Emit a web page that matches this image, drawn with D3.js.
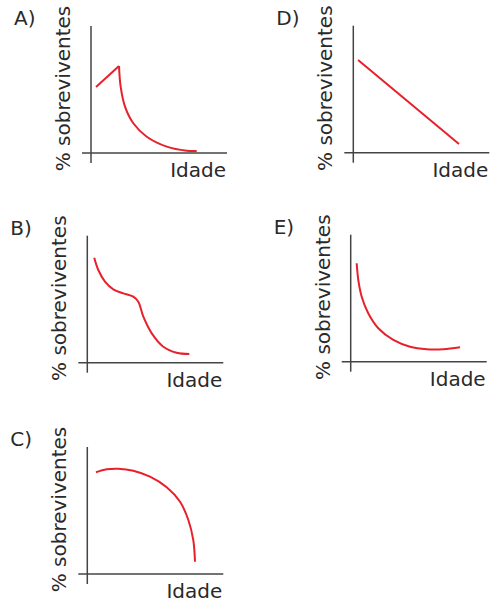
<!DOCTYPE html>
<html>
<head>
<meta charset="utf-8">
<script src="https://cdn.jsdelivr.net/npm/d3@7/dist/d3.min.js"></script>
<style>
  html, body { margin: 0; padding: 0; background: #fff; }
  svg { display: block; }
  text { font-family: "DejaVu Sans", Verdana, sans-serif; fill: #2a2a2a; }
</style>
</head>
<body>
<svg id="chart" width="494" height="602"></svg>
<script>
// ---- Data (age in % of lifespan, survivors in %) ----
const panelNames = ["A)", "B)", "C)", "D)", "E)"];
const yLabel = "% sobreviventes";
const xLabel = "Idade";

// A: short rise then sharp decay (two pieces)
const ageA1 = [3.7, 20.6];
const survA1 = [52.0, 68.5];
const ageA2 = [20.6, 21.8, 25.0, 31.1, 41.0, 55.7, 70.4, 77.7];
const survA2 = [68.5, 52.2, 36.5, 23.4, 12.8, 5.0, 1.8, 1.6];

// B: two-step decline
const ageB = [5.1, 8.1, 13.0, 19.1, 26.5, 33.8, 37.5, 41.2, 47.4, 55.9, 65.7, 75.0];
const survB = [82.7, 73.0, 63.8, 57.8, 54.6, 52.0, 48.0, 36.2, 23.1, 12.6, 7.9, 6.9];

// C: high survival then late collapse
const ageC = [6.4, 14.3, 22.8, 33.8, 46.1, 58.4, 68.2, 74.3, 77.9, 79.2];
const survC = [80.1, 82.4, 82.9, 81.3, 76.6, 68.3, 56.9, 42.5, 26.8, 9.7];

// D: constant decline
const ageD = [3.5, 77.7];
const survD = [73.0, 6.9];

// E: early heavy mortality
const ageE = [4.4, 5.6, 8.1, 12.9, 20.3, 31.3, 43.6, 55.9, 68.1, 80.4];
const survE = [77.5, 64.3, 51.2, 38.1, 26.3, 17.1, 11.8, 9.8, 9.8, 11.3];

// ---- Layout ----
const layout = [
  { name: panelNames[0], ox: 91,    oy: 153,   series: [[ageA1, survA1, "linear"], [ageA2, survA2, "smooth"]] },
  { name: panelNames[1], ox: 87.3,  oy: 362.7, series: [[ageB, survB, "smooth"]] },
  { name: panelNames[2], ox: 87.3,  oy: 574,   series: [[ageC, survC, "smooth"]] },
  { name: panelNames[3], ox: 353.3, oy: 152.7, series: [[ageD, survD, "linear"]] },
  { name: panelNames[4], ox: 350.7, oy: 361.7, series: [[ageE, survE, "smooth"]] }
];

const W = 136, H = 127, overX = 9, overY = 10;
const red = "#e8202a", axisColor = "#444", fontSize = 20;

const svg = d3.select("#chart");

layout.forEach(p => {
  const x = d3.scaleLinear().domain([0, 100]).range([p.ox, p.ox + W]);
  const y = d3.scaleLinear().domain([0, 100]).range([p.oy, p.oy - H]);
  const g = svg.append("g");

  // axes
  g.append("line")
    .attr("x1", x(0) - overX).attr("x2", x(100))
    .attr("y1", y(0)).attr("y2", y(0))
    .attr("stroke", axisColor).attr("stroke-width", 1.5);
  g.append("line")
    .attr("x1", x(0)).attr("x2", x(0))
    .attr("y1", y(0) + overY).attr("y2", y(100))
    .attr("stroke", axisColor).attr("stroke-width", 1.5);

  // curves
  p.series.forEach(([ages, survs, kind]) => {
    const pts = ages.map((a, i) => [a, survs[i]]);
    const line = d3.line()
      .x(d => x(d[0])).y(d => y(d[1]))
      .curve(kind === "smooth" ? d3.curveCatmullRom.alpha(0.5) : d3.curveLinear);
    g.append("path")
      .attr("d", line(pts))
      .attr("fill", "none")
      .attr("stroke", red)
      .attr("stroke-width", 2)
      .attr("stroke-linejoin", "round")
      .attr("stroke-linecap", "butt");
  });

  // labels
  g.append("text")
    .attr("x", x(0) - 77).attr("y", y(0) - 128)
    .attr("font-size", fontSize)
    .text(p.name);

  g.append("text")
    .attr("transform", `translate(${x(0) - 21},${y(0) - 64.5}) rotate(-90)`)
    .attr("text-anchor", "middle")
    .attr("font-size", fontSize)
    .text(yLabel);

  g.append("text")
    .attr("x", x(100) - 1).attr("y", y(0) + 24)
    .attr("text-anchor", "end")
    .attr("font-size", fontSize)
    .text(xLabel);
});
</script>
</body>
</html>
